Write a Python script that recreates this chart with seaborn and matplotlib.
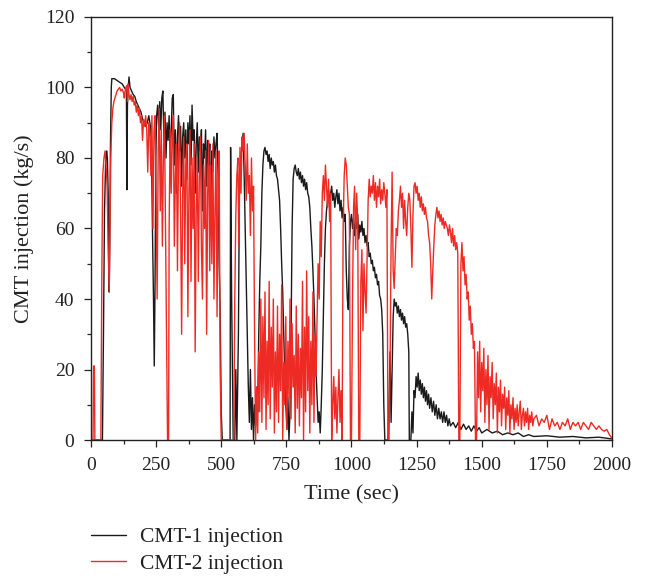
import matplotlib
matplotlib.use("Agg")
import matplotlib.pyplot as plt
from matplotlib.ticker import MultipleLocator
from matplotlib.lines import Line2D
import seaborn as sns
import pandas as pd

# ---- data ----
series_names = ["CMT-1 injection", "CMT-2 injection"]
series_colors = ["#1a1a1a", "#ee2a24"]

cmt1_points = [
    (0, 0), (44, 0), (48, 30), (52, 65), (56, 78), (60, 82), (63, 80), (66, 70), (68, 50), (70, 42),
    (72, 55), (75, 85), (78, 100), (80, 102.5), (90, 102.5), (100, 102), (110, 101.5), (120, 101),
    (128, 100), (133, 99.5), (136, 99), (138, 71), (140, 95), (143, 100), (146, 103), (150, 100),
    (156, 99), (162, 98), (168, 97.5), (174, 96), (180, 95), (186, 94), (192, 93), (198, 91),
    (204, 90), (210, 89), (216, 90), (222, 92), (228, 89), (232, 85), (236, 60), (240, 40),
    (243, 21), (246, 45), (249, 80), (252, 92), (256, 95), (260, 89), (264, 96), (268, 88),
    (272, 97), (276, 99), (280, 85), (284, 93), (288, 80), (292, 90), (296, 85), (300, 92),
    (304, 80), (308, 88), (312, 97), (316, 98), (320, 78), (324, 88), (328, 70), (332, 86),
    (336, 92), (340, 82), (344, 89), (348, 72), (352, 86), (356, 90), (360, 80), (364, 88),
    (368, 74), (372, 90), (376, 84), (380, 92), (384, 78), (388, 95), (392, 85), (396, 88),
    (400, 70), (404, 84), (408, 90), (412, 76), (416, 86), (420, 82), (424, 88), (428, 65),
    (432, 84), (436, 80), (440, 88), (444, 72), (448, 85), (452, 78), (456, 84), (460, 60),
    (464, 82), (468, 76), (472, 86), (476, 80), (480, 84), (484, 87), (488, 75), (492, 50),
    (496, 36), (500, 8), (504, 0), (534, 0), (536, 83), (540, 40), (546, 0), (552, 0),
    (556, 20), (560, 0), (566, 30), (570, 75), (575, 80), (580, 84), (584, 87), (588, 75),
    (592, 60), (596, 45), (600, 30), (604, 15), (608, 5), (612, 20), (616, 3), (620, 12),
    (624, 0), (628, 10), (632, 4), (636, 15), (640, 8), (644, 30), (648, 45), (652, 55),
    (656, 70), (660, 78), (664, 82), (668, 83), (672, 81), (676, 82), (680, 79), (684, 81),
    (688, 77), (692, 80), (696, 78), (700, 79), (704, 76), (708, 78), (712, 75), (716, 74),
    (720, 71), (724, 68), (728, 60), (732, 50), (736, 42), (740, 30), (744, 18), (748, 10),
    (752, 3), (756, 12), (760, 0), (764, 8), (768, 30), (772, 60), (776, 74), (780, 77),
    (784, 78), (788, 76), (792, 75), (796, 77), (800, 74), (804, 76), (808, 73), (812, 75),
    (816, 72), (820, 74), (824, 71), (828, 73), (832, 70), (836, 69), (840, 66), (844, 60),
    (848, 55), (852, 48), (856, 40), (860, 30), (864, 20), (868, 12), (872, 5), (876, 8),
    (880, 2), (884, 10), (888, 20), (892, 35), (896, 50), (900, 60), (904, 65), (908, 68),
    (912, 71), (916, 67), (920, 70), (924, 72), (928, 68), (932, 70), (936, 66), (940, 69),
    (944, 71), (948, 67), (952, 70), (956, 65), (960, 68), (964, 63), (968, 66), (972, 62),
    (976, 64), (980, 48), (984, 40), (988, 37), (992, 55), (996, 62), (1000, 64), (1004, 60),
    (1008, 63), (1012, 58), (1016, 62), (1020, 60), (1024, 64), (1028, 57), (1032, 61),
    (1036, 59), (1040, 62), (1044, 58), (1048, 60), (1052, 56), (1056, 58), (1060, 55),
    (1064, 56), (1068, 52), (1072, 53), (1076, 50), (1080, 51), (1084, 48), (1088, 49),
    (1092, 46), (1096, 47), (1100, 44), (1104, 45), (1108, 41), (1112, 40), (1116, 37),
    (1120, 30), (1124, 10), (1128, 0), (1140, 0), (1144, 10), (1148, 25), (1152, 5),
    (1156, 20), (1160, 35), (1164, 40), (1168, 38), (1172, 39), (1176, 36), (1180, 38),
    (1184, 35), (1188, 37), (1192, 34), (1196, 36), (1200, 33), (1204, 35), (1208, 32),
    (1212, 33), (1216, 30), (1220, 25), (1222, 0), (1228, 0), (1232, 8), (1236, 2),
    (1240, 14), (1244, 12), (1248, 18), (1252, 15), (1256, 19), (1260, 14), (1264, 17),
    (1268, 13), (1272, 16), (1276, 12), (1280, 15), (1284, 11), (1288, 14), (1292, 10),
    (1296, 13), (1300, 9), (1305, 12), (1310, 8), (1315, 11), (1320, 7), (1325, 10),
    (1330, 6), (1335, 9), (1340, 6), (1345, 8), (1350, 5), (1355, 8), (1360, 5), (1365, 7),
    (1370, 4), (1375, 6), (1380, 4), (1390, 5), (1400, 3.5), (1410, 5), (1420, 3),
    (1430, 4.5), (1440, 3), (1450, 4), (1460, 2.5), (1470, 4), (1480, 2.5), (1490, 3.5),
    (1500, 2), (1520, 3), (1540, 2), (1560, 2.5), (1580, 1.5), (1600, 2), (1620, 1.5),
    (1640, 2), (1660, 1), (1680, 1.5), (1700, 1), (1750, 1.2), (1800, 0.8), (1850, 1),
    (1900, 0.6), (1950, 0.8), (2000, 0.3),
]

cmt2_points = [
    (0, 0), (8, 0), (10, 21), (13, 21), (15, 0), (38, 0), (42, 50), (45, 75), (50, 80),
    (54, 82), (58, 78), (62, 72), (66, 55), (70, 42), (73, 60), (76, 80), (80, 90), (84, 94),
    (88, 96), (92, 97), (96, 98), (100, 99), (105, 99.5), (110, 100), (115, 99), (120, 99.5),
    (125, 98.5), (128, 97), (131, 99), (134, 100), (137, 100.5), (140, 96), (143, 101),
    (146, 98), (150, 96.5), (154, 98), (158, 96), (162, 97.5), (166, 95), (170, 96),
    (174, 93), (178, 95), (182, 92), (186, 94), (190, 90), (194, 92), (198, 85), (202, 91),
    (206, 89), (210, 92), (214, 88), (218, 76), (222, 90), (226, 88), (230, 75), (234, 92),
    (238, 60), (242, 88), (246, 92), (250, 70), (254, 40), (258, 82), (262, 94), (266, 65),
    (270, 88), (274, 55), (278, 80), (282, 92), (286, 60), (290, 30), (294, 0), (298, 0),
    (300, 60), (304, 88), (308, 70), (312, 85), (316, 92), (320, 55), (324, 75), (328, 84),
    (332, 48), (336, 80), (340, 90), (344, 65), (348, 30), (352, 70), (356, 86), (360, 50),
    (364, 78), (368, 84), (372, 35), (376, 70), (380, 88), (384, 45), (388, 80), (392, 60),
    (396, 84), (400, 25), (404, 65), (408, 80), (412, 45), (416, 75), (420, 86), (424, 55),
    (428, 40), (432, 78), (436, 60), (440, 82), (444, 30), (448, 70), (452, 85), (456, 48),
    (460, 78), (464, 50), (468, 84), (472, 40), (476, 65), (480, 82), (484, 35), (488, 72),
    (492, 82), (496, 20), (500, 0), (548, 0), (552, 40), (556, 64), (560, 75), (564, 80),
    (568, 55), (572, 83), (576, 70), (580, 86), (584, 82), (588, 87), (592, 78), (596, 68),
    (600, 84), (604, 70), (608, 75), (612, 58), (616, 80), (620, 65), (624, 72), (628, 30),
    (632, 0), (636, 15), (640, 2), (644, 25), (648, 8), (652, 40), (656, 5), (660, 35),
    (664, 12), (668, 42), (672, 3), (676, 28), (680, 10), (684, 45), (688, 6), (692, 32),
    (696, 15), (700, 40), (704, 2), (708, 25), (712, 8), (716, 38), (720, 5), (724, 30),
    (728, 14), (732, 44), (736, 0), (740, 22), (744, 10), (748, 35), (752, 3), (756, 28),
    (760, 12), (764, 40), (768, 6), (772, 33), (776, 15), (780, 24), (784, 2), (788, 38),
    (792, 9), (796, 30), (800, 4), (804, 26), (808, 12), (812, 45), (816, 0), (820, 32),
    (824, 8), (828, 48), (832, 14), (836, 35), (840, 2), (844, 28), (848, 10), (852, 42),
    (856, 5), (860, 30), (864, 18), (868, 35), (872, 50), (876, 40), (880, 62), (884, 52),
    (888, 70), (892, 75), (896, 68), (900, 78), (904, 72), (908, 66), (912, 74), (916, 62),
    (920, 70), (924, 0), (928, 10), (932, 18), (936, 6), (940, 15), (944, 2), (948, 12),
    (952, 20), (956, 5), (960, 14), (964, 0), (968, 60), (972, 75), (976, 80), (980, 78),
    (984, 72), (988, 66), (992, 64), (996, 0), (1000, 0), (1004, 40), (1008, 66), (1012, 72),
    (1016, 54), (1020, 70), (1024, 62), (1028, 0), (1032, 0), (1036, 45), (1040, 54),
    (1044, 31), (1048, 50), (1052, 42), (1056, 36), (1060, 52), (1064, 68), (1068, 74),
    (1072, 69), (1076, 72), (1080, 70), (1084, 75), (1088, 68), (1092, 73), (1096, 66),
    (1100, 72), (1104, 69), (1108, 74), (1112, 67), (1116, 71), (1120, 68), (1124, 73),
    (1128, 70), (1132, 66), (1136, 71), (1140, 0), (1144, 0), (1148, 20), (1152, 55),
    (1156, 76), (1160, 48), (1164, 43), (1168, 52), (1172, 60), (1176, 58), (1180, 65),
    (1184, 68), (1188, 72), (1192, 66), (1196, 70), (1200, 60), (1204, 68), (1208, 62),
    (1212, 58), (1216, 66), (1220, 70), (1224, 68), (1228, 60), (1232, 49), (1236, 64),
    (1240, 72), (1244, 73), (1248, 70), (1252, 72), (1256, 68), (1260, 70), (1264, 66),
    (1268, 69), (1272, 65), (1276, 67), (1280, 64), (1284, 66), (1288, 63), (1292, 62),
    (1296, 58), (1300, 56), (1304, 50), (1308, 40), (1312, 48), (1316, 55), (1320, 61),
    (1324, 64), (1328, 66), (1332, 63), (1336, 65), (1340, 62), (1344, 64), (1348, 61),
    (1352, 63), (1356, 60), (1360, 62), (1364, 61), (1368, 60), (1372, 58), (1376, 61),
    (1380, 59), (1384, 56), (1388, 60), (1392, 55), (1396, 58), (1400, 54), (1404, 56),
    (1408, 53), (1412, 0), (1416, 0), (1420, 50), (1424, 56), (1428, 48), (1432, 52),
    (1436, 44), (1440, 47), (1444, 40), (1448, 42), (1452, 34), (1456, 38), (1460, 30),
    (1464, 33), (1468, 26), (1472, 28), (1476, 0), (1480, 0), (1484, 25), (1488, 12),
    (1492, 28), (1496, 8), (1500, 22), (1504, 14), (1508, 26), (1512, 5), (1516, 20),
    (1520, 10), (1524, 24), (1528, 3), (1532, 18), (1536, 12), (1540, 22), (1544, 6),
    (1548, 16), (1552, 10), (1556, 19), (1560, 2), (1564, 15), (1568, 8), (1572, 17),
    (1576, 4), (1580, 13), (1584, 9), (1588, 15), (1592, 3), (1596, 12), (1600, 7),
    (1604, 14), (1608, 2), (1612, 10), (1616, 6), (1620, 12), (1624, 3), (1628, 9),
    (1632, 5), (1636, 10), (1640, 4), (1644, 8), (1648, 11), (1652, 3), (1656, 7),
    (1660, 9), (1664, 4), (1668, 8), (1672, 5), (1676, 9), (1680, 3), (1684, 7), (1688, 5),
    (1692, 8), (1696, 4), (1700, 6), (1710, 7), (1720, 4), (1730, 6), (1740, 5), (1750, 7),
    (1760, 3), (1770, 6), (1780, 4), (1790, 5), (1800, 3), (1810, 5), (1820, 4), (1830, 6),
    (1840, 3), (1850, 5), (1860, 4), (1870, 5), (1880, 3), (1890, 5), (1900, 4), (1910, 3),
    (1920, 5), (1930, 4), (1940, 3), (1950, 4), (1960, 3), (1970, 2.5), (1980, 3),
    (1990, 1.5), (2000, 0.5),
]

x_ticks = [0, 250, 500, 750, 1000, 1250, 1500, 1750, 2000]
y_ticks = [0, 20, 40, 60, 80, 100, 120]
x_label = "Time (sec)"
y_label = "CMT injection (kg/s)"

# ---- build table ----
frames = []
for name, pts in zip(series_names, [cmt1_points, cmt2_points]):
    df = pd.DataFrame(pts, columns=["time", "flow"])
    df["series"] = name
    frames.append(df)
data = pd.concat(frames, ignore_index=True)

# ---- style ----
sns.set_style("ticks")
plt.rcParams["font.family"] = ["Liberation Serif", "DejaVu Serif"]

fig = plt.figure(figsize=(6.47, 5.76), dpi=100)
ax = fig.add_axes([0.1406, 0.2361, 0.8053, 0.7344])

sns.lineplot(data=data, x="time", y="flow", hue="series", hue_order=series_names,
             palette=series_colors, estimator=None, sort=False, linewidth=1.0, ax=ax,
             legend=False)

ax.set_xlim(0, 2000)
ax.set_ylim(0, 120)
ax.set_xticks(x_ticks)
ax.set_yticks(y_ticks)
ax.xaxis.set_minor_locator(MultipleLocator(125))
ax.yaxis.set_minor_locator(MultipleLocator(10))
ax.tick_params(which="major", direction="out", length=5, width=0.9, labelsize=14,
               colors="#222222", pad=7)
ax.tick_params(which="minor", direction="out", length=3, width=0.9)
for s in ax.spines.values():
    s.set_visible(True)
    s.set_linewidth(1.0)
    s.set_color("#222222")
ax.set_xlabel(x_label, fontsize=16, labelpad=8, color="#222222")
ax.set_ylabel(y_label, fontsize=16, labelpad=8, color="#222222")

handles = [Line2D([], [], color=c, lw=1.0) for c in series_colors]
fig.legend(handles, series_names, loc="upper left", bbox_to_anchor=(0.141, 0.085),
           frameon=False, fontsize=15.5, handlelength=1.6, handletextpad=0.65,
           labelspacing=0.3, borderpad=0, borderaxespad=0, labelcolor="#222222")

fig.savefig("out.png", dpi=100)
